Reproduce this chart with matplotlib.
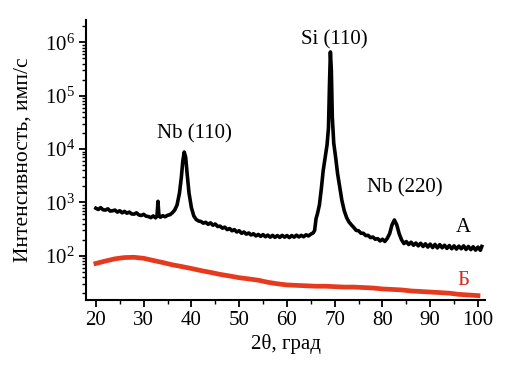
import matplotlib
matplotlib.use("Agg")
import matplotlib.pyplot as plt
from matplotlib.ticker import LogLocator, MultipleLocator

plt.rcParams.update({
    "font.family": ["Liberation Serif", "DejaVu Serif"],
    "mathtext.fontset": "custom",
    "mathtext.rm": "Liberation Serif",
    "mathtext.it": "Liberation Serif:italic",
    "font.size": 15,
})

# curve A (film), 2theta in degrees, intensity in counts/s
a_x = [20, 20.5, 21, 21.5, 22, 22.5, 23, 23.5, 24, 24.5, 25, 25.5, 26, 26.5, 27, 27.5,
       28, 28.5, 29, 29.5, 30, 30.5, 31, 31.5, 32, 32.5, 32.8, 33.0, 33.2, 33.5, 34, 34.5,
       35, 35.5, 36, 36.5, 37, 37.5, 37.9, 38.2, 38.5, 38.8, 39.1, 39.5, 40, 40.5, 41, 41.5,
       42, 42.5, 43, 43.5, 44, 44.5, 45, 45.5, 46, 46.5, 47, 47.5, 48, 48.5, 49, 49.5,
       50, 50.5, 51, 51.5, 52, 52.5, 53, 53.5, 54, 54.5, 55, 55.5, 56, 56.5, 57, 57.5,
       58, 58.5, 59, 59.5, 60, 60.5, 61, 61.5, 62, 62.5, 63, 63.5, 64, 64.5, 65, 65.5,
       65.8, 66.1, 66.4, 66.8, 67.2, 67.6, 68.0, 68.4, 68.7, 68.9, 69.1, 69.3, 69.5, 69.8,
       70.2, 70.6, 71.0, 71.5, 72, 72.5, 73, 73.5, 74, 74.5, 75, 75.5, 76, 76.5, 77, 77.5,
       78, 78.5, 79, 79.5, 80, 80.5, 81, 81.5, 82, 82.5, 83, 83.5, 84, 84.5, 85, 85.5,
       86, 86.5, 87, 87.5, 88, 88.5, 89, 89.5, 90, 90.5, 91, 91.5, 92, 92.5, 93, 93.5,
       94, 94.5, 95, 95.5, 96, 96.5, 97, 97.5, 98, 98.5, 99, 99.5, 100, 100.5, 100.8]
a_y = [780, 740, 800, 730, 720, 760, 690, 700, 720, 660, 700, 640, 680, 630, 660, 610,
       605, 640, 585, 570, 600, 555, 545, 520, 560, 515, 560, 1050, 560, 530, 565, 540,
       575, 590, 640, 720, 900, 1500, 3000, 6000, 8800, 7000, 3500, 1500, 800, 560, 480, 450,
       440, 410, 425, 390, 415, 375, 395, 355, 360, 330, 345, 310, 325, 295, 310, 280,
       295, 265, 280, 255, 268, 246, 260, 236, 252, 232, 250, 228, 245, 224, 242, 222,
       240, 222, 242, 224, 240, 220, 240, 224, 244, 226, 242, 228, 248, 236, 255, 270,
       300, 500, 620, 900, 1800, 4000, 7000, 12000, 25000, 150000, 660000, 300000, 40000, 13000,
       7000, 3500, 2100, 1100, 700, 520, 430, 380, 340, 300, 295, 265, 265, 240, 242, 220,
       225, 205, 210, 190, 205, 186, 212, 260, 380, 470, 380, 260, 200, 170, 185, 163,
       180, 158, 174, 154, 172, 150, 168, 146, 166, 143, 164, 141, 162, 142, 158, 138,
       156, 136, 154, 134, 152, 136, 154, 132, 150, 131, 148, 128, 146, 127, 150]

# curve B (substrate)
b_x = [20, 22, 24, 26, 28, 30, 32, 34, 36, 38, 40, 42, 44, 46, 48, 50, 52, 54, 56, 58,
       60, 62, 64, 66, 68, 70, 72, 74, 76, 78, 80, 82, 84, 86, 88, 90, 92, 94, 96, 98, 100]
b_y = [72, 80, 88, 93, 94, 90, 82, 75, 68, 63, 58, 53, 49, 45, 42, 39, 37, 35, 32, 30,
       28.5, 28, 27.5, 27, 27, 26.5, 26, 26, 25.5, 25, 24, 23.5, 23, 22, 21.5, 21, 20.5, 20,
       19, 18.5, 18]

peak_labels = ["Nb (110)", "Si (110)", "Nb (220)"]
peak_pos = [(40.7, 1.9e4), (70.0, 1.1e6), (84.7, 1.86e3)]

fig = plt.figure(figsize=(5.08, 3.67), dpi=100)
ax = fig.add_axes([0.169, 0.183, 0.786, 0.762])

ax.plot(a_x, a_y, color="black", lw=2.6, solid_joinstyle="round")
ax.plot(b_x, b_y, color="#E53A1E", lw=3.4)

ax.set_yscale("log")
ax.set_xlim(17.9, 101.5)
ax.set_ylim(15, 2.6e6)
ax.xaxis.set_major_locator(MultipleLocator(10))
ax.xaxis.set_minor_locator(MultipleLocator(5))
ax.yaxis.set_major_locator(LogLocator(base=10, numticks=10))
ax.yaxis.set_minor_locator(LogLocator(base=10, subs=range(2, 10), numticks=20))

for side in ("top", "right"):
    ax.spines[side].set_visible(False)
for side in ("left", "bottom"):
    ax.spines[side].set_linewidth(1.5)
ax.tick_params(which="major", length=5, width=1.3, direction="out", labelsize=15, pad=3)
ax.tick_params(which="minor", length=3, width=1.0, direction="out")

for lbl, (x, y) in zip(peak_labels, peak_pos):
    ax.text(x, y, lbl, ha="center", va="center", fontsize=15)
ax.text(96.9, 335, "А", ha="center", va="center", fontsize=15)
ax.text(96.9, 34, "Б", ha="center", va="center", fontsize=15, color="#D42A1E")

ax.set_xlabel("2θ, град", fontsize=15, labelpad=3)
ax.set_ylabel("Интенсивность, имп/с", fontsize=15.5, labelpad=9)

fig.savefig("out.png", dpi=100)
